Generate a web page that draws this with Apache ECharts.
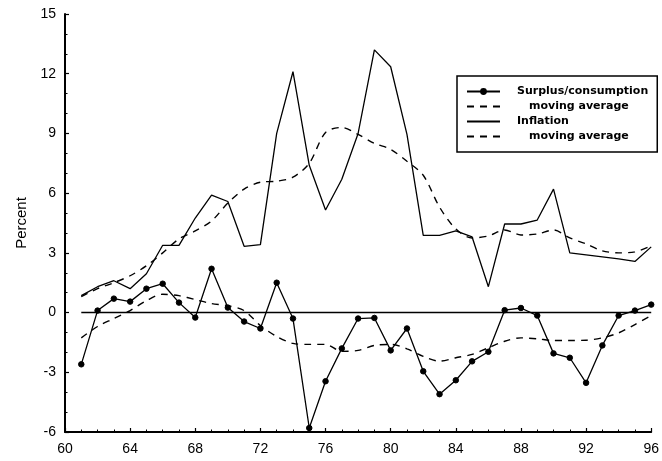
<!DOCTYPE html>
<html>
<head>
<meta charset="utf-8">
<script src="https://cdn.jsdelivr.net/npm/echarts@6/dist/echarts.min.js"></script>
<style>
html,body{margin:0;padding:0;background:#fff;}
#c{width:662px;height:461px;}
</style>
</head>
<body>
<div id="c"></div>
<script>
const years = [61,62,63,64,65,66,67,68,69,70,71,72,73,74,75,76,77,78,79,80,81,82,83,84,85,86,87,88,89,90,91,92,93,94,95,96];
const surplus = [-2.6,0.1,0.7,0.55,1.2,1.45,0.5,-0.25,2.2,0.25,-0.45,-0.8,1.5,-0.3,-5.8,-3.45,-1.8,-0.3,-0.27,-1.9,-0.8,-2.95,-4.1,-3.4,-2.45,-1.97,0.12,0.23,-0.15,-2.05,-2.27,-3.53,-1.65,-0.15,0.1,0.4];
const surplusMA = [-1.27,-0.7,-0.3,0.1,0.6,0.92,0.85,0.65,0.45,0.35,0.1,-0.65,-1.2,-1.55,-1.6,-1.6,-1.95,-1.9,-1.65,-1.6,-1.82,-2.2,-2.44,-2.27,-2.1,-1.77,-1.44,-1.27,-1.32,-1.4,-1.4,-1.39,-1.27,-1.02,-0.6,-0.15];
const inflation = [0.85,1.3,1.6,1.2,1.95,3.38,3.38,4.75,5.9,5.58,3.33,3.41,9.0,12.1,7.4,5.15,6.7,9.0,13.2,12.35,8.95,3.88,3.88,4.1,3.8,1.3,4.45,4.45,4.65,6.2,3.0,2.9,2.8,2.7,2.57,3.3];
const inflationMA = [0.8,1.2,1.5,1.85,2.35,3.0,3.7,4.1,4.6,5.5,6.2,6.55,6.6,6.8,7.5,9.05,9.3,8.95,8.5,8.2,7.6,6.9,5.3,4.2,3.75,3.85,4.15,3.9,3.95,4.15,3.75,3.45,3.1,3.0,3.05,3.35];
const legendLabels = {
  'Surplus/consumption': 'Surplus/consumption',
  'Surplus MA': 'moving average',
  'Inflation': 'Inflation',
  'Inflation MA': 'moving average'
};
const xTicks = {min: 60, max: 96, interval: 4};
const yTicks = {min: -6, max: 15, interval: 3};

const pair = (arr) => years.map((y, i) => [y, arr[i]]);
const FONT = 'Liberation Sans, Arial, sans-serif';
const LFONT = 'DejaVu Sans, sans-serif';
const chart = echarts.init(document.getElementById('c'), null, {renderer: 'canvas'});
const dash = [7, 6];
const noSym = {opacity: 0};
chart.setOption({
  backgroundColor: '#fff',
  animation: false,
  grid: {left: 65, right: 10, top: 14, bottom: 29, containLabel: false},
  xAxis: {
    type: 'value', min: xTicks.min, max: xTicks.max, interval: xTicks.interval,
    axisLine: {show: true, onZero: false, lineStyle: {color: '#000', width: 2}},
    axisTick: {show: true, inside: true, length: 4, lineStyle: {color: '#000', width: 1.2}},
    minorTick: {show: true, splitNumber: 4, length: 2.5, lineStyle: {color: '#000', width: 1}},
    splitLine: {show: false},
    axisLabel: {color: '#000', fontSize: 14, fontFamily: FONT, margin: 10}
  },
  yAxis: {
    type: 'value', min: yTicks.min, max: yTicks.max, interval: yTicks.interval,
    name: 'Percent', nameLocation: 'middle', nameGap: 36, nameRotate: 90,
    nameTextStyle: {color: '#000', fontSize: 15, fontFamily: FONT},
    axisLine: {show: true, onZero: false, lineStyle: {color: '#000', width: 2}},
    axisTick: {show: true, inside: true, length: 4, lineStyle: {color: '#000', width: 1.2}},
    minorTick: {show: true, splitNumber: 3, length: 2.5, lineStyle: {color: '#000', width: 1}},
    splitLine: {show: false},
    axisLabel: {color: '#000', fontSize: 14, fontFamily: FONT, margin: 9}
  },
  legend: {
    orient: 'vertical', left: 457, top: 76,
    padding: [10, 9, 10, 9], itemGap: 4, itemWidth: 33, itemHeight: 6,
    borderColor: '#000', borderWidth: 1.5, backgroundColor: '#fff',
    selectedMode: false,
    formatter: (n) => legendLabels[n],
    textStyle: {color: '#000', fontSize: 11, fontWeight: 'bold', fontFamily: LFONT, lineHeight: 11, padding: [0, 0, 0, 12]},
    data: [
      {name: 'Surplus/consumption'},
      {name: 'Surplus MA', itemStyle: noSym, textStyle: {padding: [0, 0, 0, 24]}},
      {name: 'Inflation', itemStyle: noSym},
      {name: 'Inflation MA', itemStyle: noSym, textStyle: {padding: [0, 0, 0, 24]}}
    ]
  },
  series: [
    {
      name: 'Inflation', type: 'line', data: pair(inflation),
      symbol: 'none', lineStyle: {color: '#000', width: 1.3}, itemStyle: {color: '#000'}, z: 3
    },
    {
      name: 'Inflation MA', type: 'line', data: pair(inflationMA),
      symbol: 'none', smooth: 0.3, lineStyle: {color: '#000', width: 1.4, type: dash}, itemStyle: {color: '#000'}, z: 2
    },
    {
      name: 'Surplus/consumption', type: 'line', data: pair(surplus),
      symbol: 'circle', symbolSize: 5.5, showSymbol: true,
      lineStyle: {color: '#000', width: 1.3}, itemStyle: {color: '#000', borderColor: '#000', borderWidth: 1}, z: 4,
      markLine: {
        silent: true, symbol: 'none', label: {show: false},
        lineStyle: {color: '#000', width: 1.3, type: 'solid'},
        data: [[{coord: [years[0], 0]}, {coord: [years[years.length - 1], 0]}]]
      }
    },
    {
      name: 'Surplus MA', type: 'line', data: pair(surplusMA),
      symbol: 'none', smooth: 0.3, lineStyle: {color: '#000', width: 1.4, type: dash}, itemStyle: {color: '#000'}, z: 2
    }
  ]
});
</script>
</body>
</html>
